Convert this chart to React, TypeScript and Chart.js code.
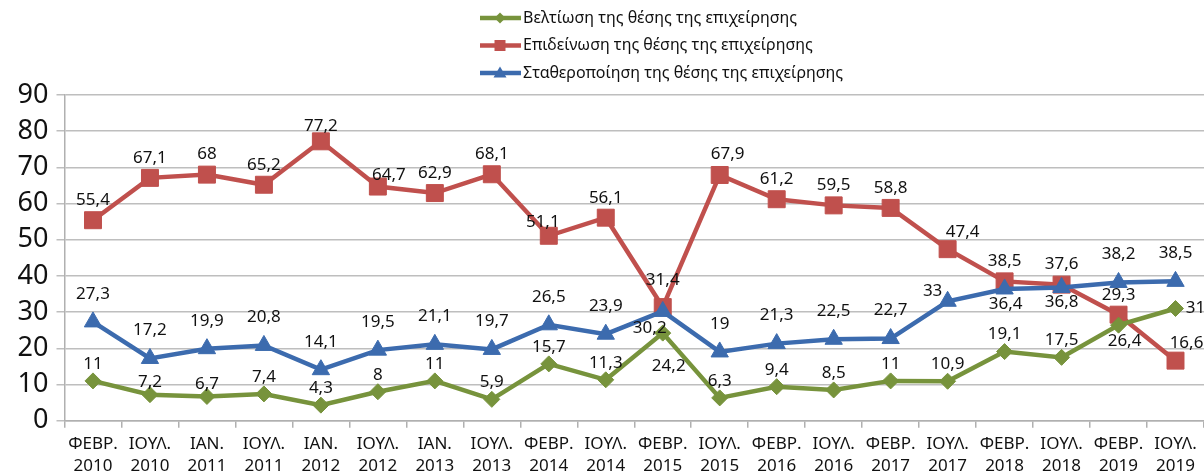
import React, { useEffect, useRef } from 'react';
import { Chart, registerables } from 'chart.js';

Chart.register(...registerables);

const months = ['ΦΕΒΡ.', 'ΙΟΥΛ.', 'ΙΑΝ.', 'ΙΟΥΛ.', 'ΙΑΝ.', 'ΙΟΥΛ.', 'ΙΑΝ.', 'ΙΟΥΛ.', 'ΦΕΒΡ.', 'ΙΟΥΛ.', 'ΦΕΒΡ.', 'ΙΟΥΛ.', 'ΦΕΒΡ.', 'ΙΟΥΛ.', 'ΦΕΒΡ.', 'ΙΟΥΛ.', 'ΦΕΒΡ.', 'ΙΟΥΛ.', 'ΦΕΒΡ.', 'ΙΟΥΛ.'];
const years = ['2010', '2010', '2011', '2011', '2012', '2012', '2013', '2013', '2014', '2014', '2015', '2015', '2016', '2016', '2017', '2017', '2018', '2018', '2019', '2019'];

const seriesNames = [
  'Βελτίωση της θέσης της επιχείρησης',
  'Επιδείνωση της θέσης της επιχείρησης',
  'Σταθεροποίηση της θέσης της επιχείρησης',
];

const improvement = [11, 7.2, 6.7, 7.4, 4.3, 8, 11, 5.9, 15.7, 11.3, 24.2, 6.3, 9.4, 8.5, 11, 10.9, 19.1, 17.5, 26.4, 31];
const deterioration = [55.4, 67.1, 68, 65.2, 77.2, 64.7, 62.9, 68.1, 51.1, 56.1, 31.4, 67.9, 61.2, 59.5, 58.8, 47.4, 38.5, 37.6, 29.3, 16.6];
const stabilization = [27.3, 17.2, 19.9, 20.8, 14.1, 19.5, 21.1, 19.7, 26.5, 23.9, 30.2, 19, 21.3, 22.5, 22.7, 33, 36.4, 36.8, 38.2, 38.5];

const yMin = 0;
const yMax = 90;
const yStep = 10;

const FONT = '"Noto Sans", "Open Sans", sans-serif';
const COLORS = ['#77933C', '#C0504D', '#3C6BAE'];
const POINT_STYLES = ['rectRot', 'rect', 'triangle'];
const POINT_RADII = [8, 12, 10];

// label placement (styling, not data): default vertical offset per series + overrides
const LABEL_DY = [-17, -20, -28];
const LABEL_OVERRIDES: Record<string, [number, number]> = {
  '0-1': [0, -12],
  '0-2': [0, -12],
  '0-10': [6, 33],
  '0-18': [6, 16],
  '0-19': [20, 0],
  '1-4': [0, -15],
  '1-5': [11, -11],
  '1-8': [-6, -14],
  '1-10': [0, -27],
  '1-11': [8, -21],
  '1-15': [15, -17],
  '1-19': [11, -17],
  '2-10': [-13, 17],
  '2-15': [-15, -10],
  '2-16': [1, 15],
  '2-17': [0, 15],
};

const fmt = (v: number) => String(v).replace('.', ',');

const labelPlugin = {
  id: 'valueLabels',
  afterDatasetsDraw(chart: any) {
    const ctx = chart.ctx;
    ctx.save();
    ctx.font = `17px ${FONT}`;
    ctx.fillStyle = '#111';
    ctx.textAlign = 'center';
    ctx.textBaseline = 'middle';
    chart.data.datasets.forEach((ds: any, di: number) => {
      const meta = chart.getDatasetMeta(di);
      meta.data.forEach((pt: any, i: number) => {
        const ov = LABEL_OVERRIDES[`${di}-${i}`];
        const dx = ov ? ov[0] : 0;
        const dy = ov ? ov[1] : LABEL_DY[di];
        ctx.fillText(fmt(ds.data[i]), pt.x + dx, pt.y + dy);
      });
    });
    ctx.restore();
  },
};

function legendMarker(ctx: CanvasRenderingContext2D, style: string, x: number, y: number) {
  ctx.beginPath();
  if (style === 'rect') {
    ctx.rect(x - 5.5, y - 5.5, 11, 11);
  } else if (style === 'triangle') {
    ctx.moveTo(x, y - 6.5);
    ctx.lineTo(x + 6.5, y + 4.5);
    ctx.lineTo(x - 6.5, y + 4.5);
    ctx.closePath();
  } else {
    ctx.moveTo(x, y - 5.5);
    ctx.lineTo(x + 5.5, y);
    ctx.lineTo(x, y + 5.5);
    ctx.lineTo(x - 5.5, y);
    ctx.closePath();
  }
  ctx.fill();
}

const legendPlugin = {
  id: 'customLegend',
  afterDraw(chart: any) {
    const ctx = chart.ctx;
    ctx.save();
    chart.data.datasets.forEach((ds: any, i: number) => {
      const y = 18 + i * 27.5;
      ctx.strokeStyle = ds.borderColor;
      ctx.lineWidth = 4.5;
      ctx.beginPath();
      ctx.moveTo(480, y);
      ctx.lineTo(521, y);
      ctx.stroke();
      ctx.fillStyle = ds.borderColor;
      legendMarker(ctx, ds.pointStyle, 500, y);
      ctx.fillStyle = '#111';
      ctx.font = `16px ${FONT}`;
      ctx.textAlign = 'left';
      ctx.textBaseline = 'middle';
      ctx.fillText(ds.label, 523, y);
    });
    ctx.restore();
  },
};

export default function App() {
  const ref = useRef<HTMLCanvasElement | null>(null);

  useEffect(() => {
    document.body.style.margin = '0';
    if (!ref.current) return;
    const labels = months.map((m, i) => [m, years[i]]);
    const values = [improvement, deterioration, stabilization];
    const orders = [1, 2, 0];
    const chart = new Chart(ref.current, {
      type: 'line',
      data: {
        labels,
        datasets: values.map((d, i) => ({
          label: seriesNames[i],
          data: d,
          borderColor: COLORS[i],
          backgroundColor: COLORS[i],
          borderWidth: 4.5,
          pointStyle: POINT_STYLES[i] as any,
          pointRadius: POINT_RADII[i],
          pointBorderWidth: 1,
          pointBackgroundColor: COLORS[i],
          pointBorderColor: COLORS[i],
          tension: 0,
          order: orders[i],
          clip: false as any,
        })),
      },
      options: {
        responsive: false,
        animation: false,
        events: [],
        layout: { autoPadding: false, padding: { top: 95, left: 0, right: 0, bottom: 0 } },
        plugins: {
          legend: { display: false },
          tooltip: { enabled: false },
        },
        scales: {
          x: {
            type: 'category',
            offset: true,
            grid: {
              offset: true,
              drawOnChartArea: false,
              drawTicks: true,
              tickLength: 7,
              color: '#B0B0B0',
              lineWidth: 1.5,
            },
            border: { color: '#B0B0B0', width: 1.5 },
            ticks: {
              color: '#111',
              font: { family: FONT, size: 17, lineHeight: 1.3 },
              padding: 5,
              maxRotation: 0,
              autoSkip: false,
            },
            afterFit: (s: any) => { s.height = 53.3; },
          },
          y: {
            min: yMin,
            max: yMax,
            ticks: {
              stepSize: yStep,
              color: '#111',
              font: { family: FONT, size: 27 },
              padding: 8,
              autoSkip: false,
            },
            grid: {
              color: '#BEBEBE',
              lineWidth: 1.5,
              tickLength: 8,
            },
            border: { color: '#B0B0B0', width: 1.5 },
            afterFit: (s: any) => { s.width = 64.5; },
          },
        },
      },
      plugins: [labelPlugin, legendPlugin],
    });
    return () => chart.destroy();
  }, []);

  return (
    <div style={{ width: 1204, height: 474 }}>
      <canvas ref={ref} width={1204} height={474} />
    </div>
  );
}
